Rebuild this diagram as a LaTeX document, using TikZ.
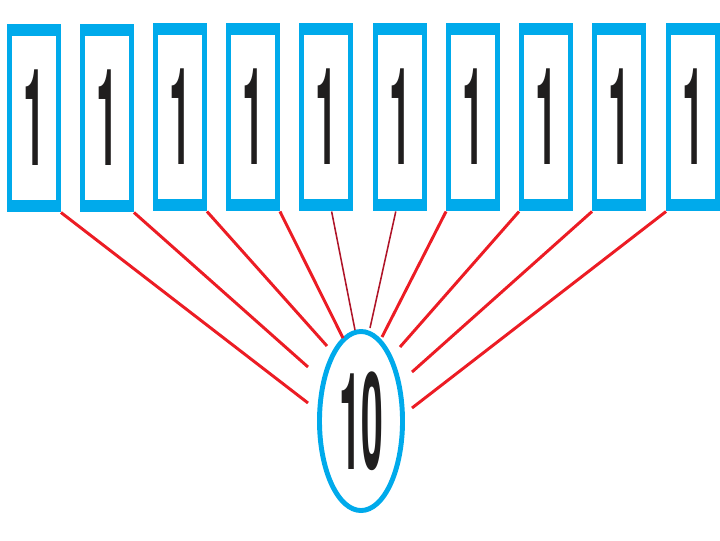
\documentclass[tikz,border=0pt]{standalone}
\usepackage{fontspec}
\setmainfont{TeX Gyre Heros}
\usetikzlibrary{shapes.geometric}
\definecolor{cellblue}{RGB}{0,170,235}
\definecolor{linkred}{RGB}{236,28,36}
\definecolor{darklink}{RGB}{175,20,40}
\definecolor{digitgrey}{RGB}{32,30,30}
\newcommand{\bigdigits}[1]{\scalebox{0.29}[1]{\fontsize{96}{96}\selectfont\bfseries #1}}
\tikzset{
	onecell/.style={draw=cellblue, line width=3.5pt, fill=white, inner sep=0pt,
		minimum width=1.225cm, minimum height=4.6cm, text=digitgrey,
		path picture={
			\fill[cellblue] (path picture bounding box.north west) rectangle ([yshift=-0.24cm]path picture bounding box.north east);
			\fill[cellblue] (path picture bounding box.south west) rectangle ([yshift=0.24cm]path picture bounding box.south east);}},
	tencell/.style={ellipse, draw=cellblue, line width=3.5pt, inner sep=0pt,
		minimum width=2.075cm, minimum height=4.475cm, text=digitgrey},
	link/.style={draw=linkred, line width=2.1pt},
	thinlink/.style={draw=darklink, line width=1.1pt}
}

\begin{document}
\begin{tikzpicture}[x=0.025cm, y=-0.025cm]

					\useasboundingbox (0,0) rectangle (720,540);

					% the ten ones
					\node[onecell] (c1) at (34,118) {\bigdigits{1}};
					\node[onecell] (c2) at (107,118) {\bigdigits{1}};
					\node[onecell] (c3) at (180,117) {\bigdigits{1}};
					\node[onecell] (c4) at (253,117) {\bigdigits{1}};
					\node[onecell] (c5) at (326,117) {\bigdigits{1}};
					\node[onecell] (c6) at (400,117) {\bigdigits{1}};
					\node[onecell] (c7) at (473,117) {\bigdigits{1}};
					\node[onecell] (c8) at (546,117) {\bigdigits{1}};
					\node[onecell] (c9) at (619,117) {\bigdigits{1}};
					\node[onecell] (c10) at (693,117) {\bigdigits{1}};

					% the ten
					\node[tencell] (ten) at (361,421) {\bigdigits{10}};

					\coordinate (e1) at (308,403);
					\coordinate (e2) at (308,367);
					\coordinate (e3) at (327,346);
					\coordinate (e4) at (343,338);
					\coordinate (e5) at (355,330);
					\coordinate (e6) at (370,328);
					\coordinate (e7) at (382,337);
					\coordinate (e8) at (400,347);
					\coordinate (e9) at (412,372);
					\coordinate (e10) at (412,408);

					\draw[link] (c1.south east) -- (e1);
					\draw[link] (c2.south east) -- (e2);
					\draw[link] (c3.south east) -- (e3);
					\draw[link] (c4.south east) -- (e4);
					\draw[thinlink] ([xshift=4]c5.south) -- (e5);
					\draw[thinlink] ([xshift=-3]c6.south) -- (e6);
					\draw[link] (c7.south west) -- (e7);
					\draw[link] (c8.south west) -- (e8);
					\draw[link] (c9.south west) -- (e9);
					\draw[link] (c10.south west) -- (e10);

\end{tikzpicture}
\end{document}
